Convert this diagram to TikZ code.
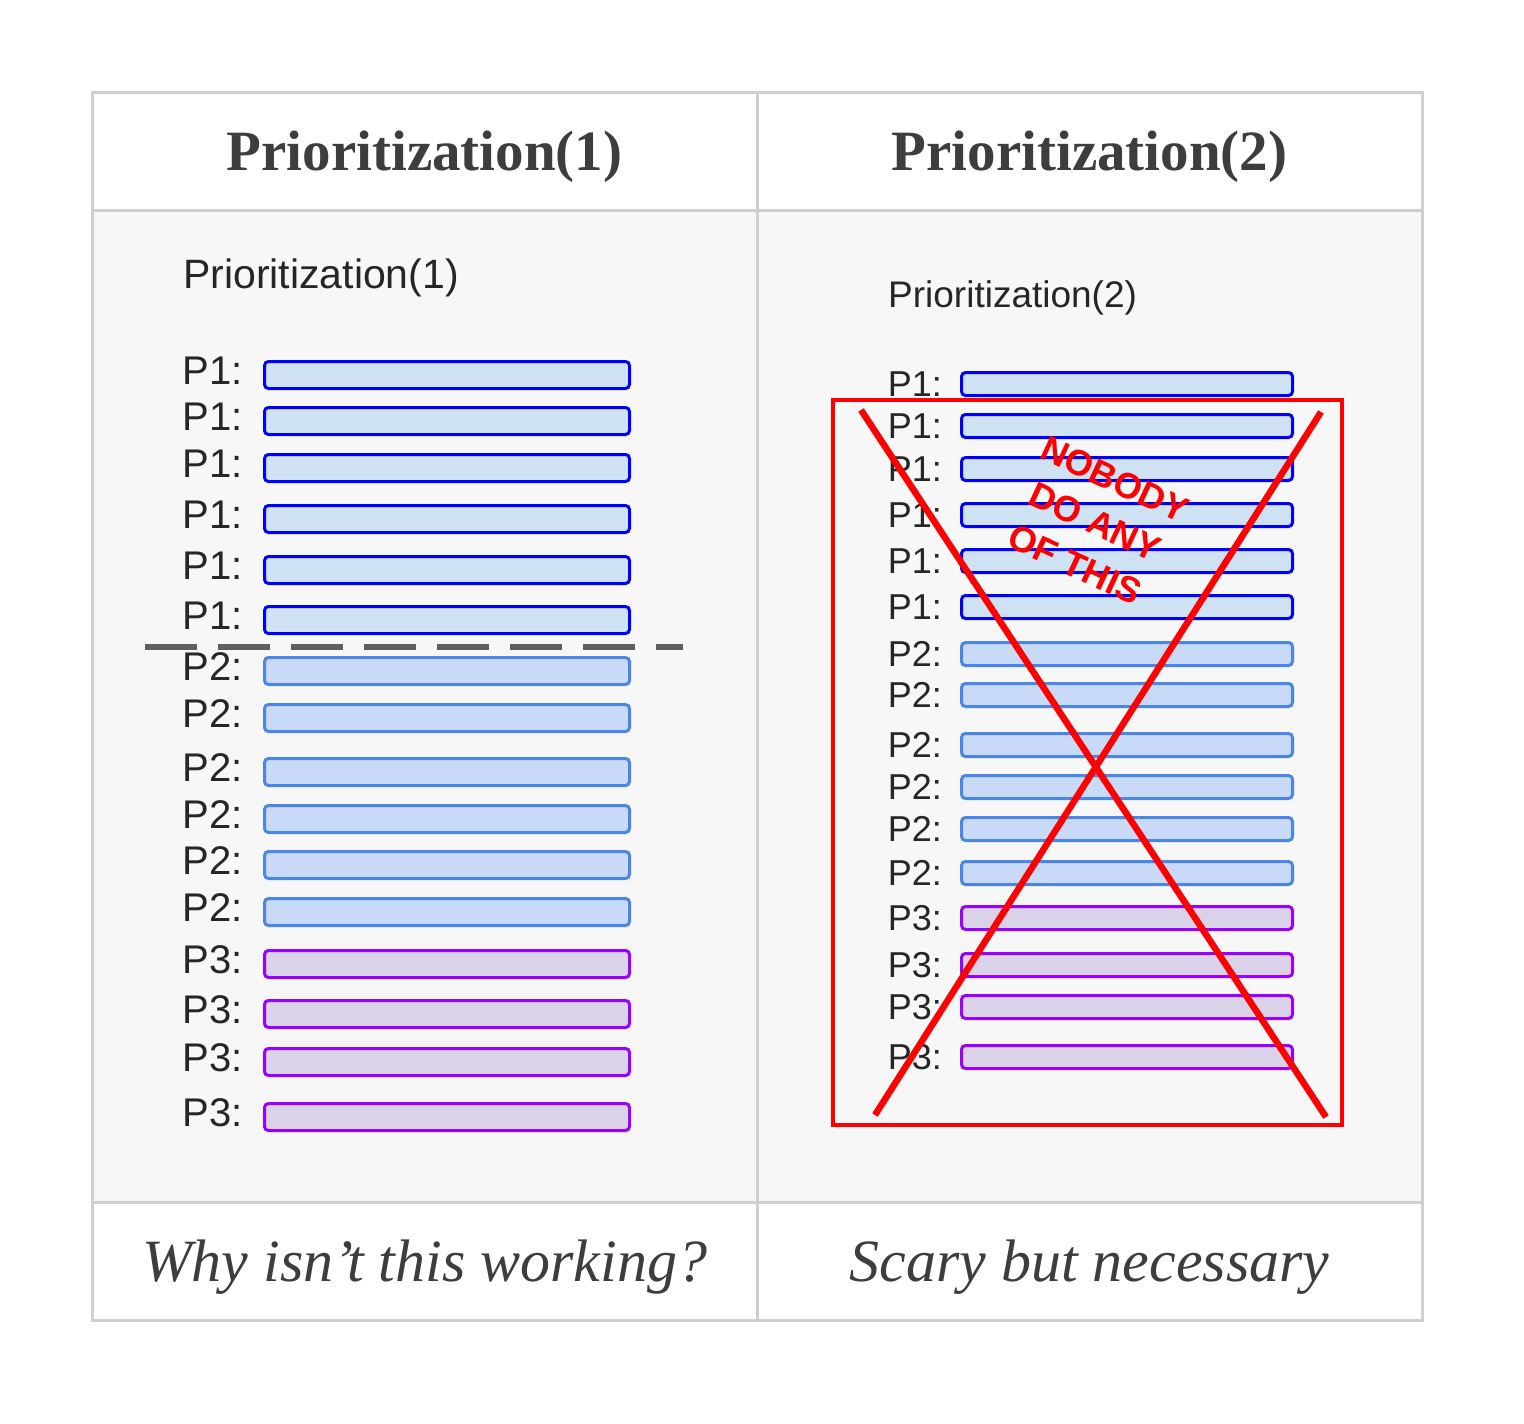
\documentclass[tikz,border=0pt]{standalone}
\usepackage{fontspec}
\setmainfont{Liberation Serif}
\setsansfont{Liberation Sans}
\usetikzlibrary{positioning}

\definecolor{grid}{HTML}{CFCFCF}
\definecolor{body}{HTML}{F7F7F7}
\definecolor{ink}{HTML}{3D3D3D}
\definecolor{f1}{HTML}{CFE2F3}
\definecolor{d1}{HTML}{0000FF}
\definecolor{f2}{HTML}{C9DAF8}
\definecolor{d2}{HTML}{4A86E8}
\definecolor{f3}{HTML}{D9D2E9}
\definecolor{d3}{HTML}{9900FF}
\definecolor{cross}{HTML}{FF0000}
\definecolor{cut}{HTML}{5F5F5F}

\begin{document}
\begin{tikzpicture}[x=1pt,y=-1pt,
                    every node/.style={inner sep=0pt},
                    head/.style={font=\fontsize{57}{60}\selectfont\bfseries,text=ink,anchor=base},
                    foot/.style={font=\fontsize{60}{62}\selectfont\itshape,text=ink,anchor=base},
                    title/.style={font=\sffamily\fontsize{#1}{#1}\selectfont,text=black!85,anchor=base west},
                    lab/.style={font=\sffamily\fontsize{#1}{#1}\selectfont,text=black!85},
                    bar/.style={draw=d#1,fill=f#1,line width=3pt,rounded corners=4pt},
                    wide/.style={minimum width=365pt,minimum height=27pt},
                    narrow/.style={minimum width=331pt,minimum height=23pt}]

\useasboundingbox (0,0) rectangle (1524,1424);

% table
\fill[body] (92,210) rectangle (1422,1202);
\draw[grid,line width=3pt] (92,92) rectangle (1422,1320)
      (757,92) -- (757,1320) (92,210) -- (1422,210) (92,1202) -- (1422,1202);

\node[head] (hd1) at (424.5,170) {Prioritization(1)};
\node[head] (hd2) at (1089.5,170) {Prioritization(2)};
\node[foot] (ft1) at (424.5,1281) {Why isn’t this working?};
\node[foot] (ft2) at (1089.5,1281) {Scary but necessary};

% left panel
\node[title=41] (tt1) at (183,288) {Prioritization(1)};
\foreach \y/\p [count=\i] in {375/1,421/1,468/1,519/1,570/1,620/1,
                              671/2,718/2,772/2,819/2,865/2,912/2,
                              964/3,1014/3,1062/3,1117/3}
{
  \node[bar=\p,wide] (l\i) at (447,\y) {};
  \node[lab=40,left=20pt of l\i,yshift=4pt] (ll\i) {P\p:};
}
\draw[cut,line width=6pt,dash pattern=on 52pt off 21pt] (145,647) -- (683,647);

% right panel
\node[title=37] (tt2) at (888,307) {Prioritization(2)};
\foreach \y/\p [count=\i] in {384/1,426/1,469/1,515/1,561/1,607/1,
                              654/2,695/2,745/2,787/2,829/2,873/2,
                              918/3,965/3,1007/3,1057/3}
{
  \node[bar=\p,narrow] (r\i) at (1127,\y) {};
  \node[lab=36,left=18pt of r\i] (rl\i) {P\p:};
}

% crossed out
\draw[cross,line width=4pt] (833,400) rectangle (1342,1125);
\draw[cross,line width=6.5pt] (861,410) -- (1326,1117) (1321,412) -- (875,1115);
\node[text=cross,rotate=-25,align=center,
      font=\sffamily\bfseries\fontsize{36}{47}\selectfont] (nobody) at (1095,522)
      {NOBODY\\DO ANY\\OF THIS};

\end{tikzpicture}
\end{document}
